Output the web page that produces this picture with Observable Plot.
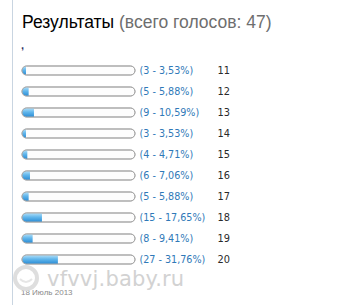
<!DOCTYPE html>
<html>
<head>
<meta charset="utf-8">
<script src="https://cdn.jsdelivr.net/npm/d3@7"></script>
<script src="https://cdn.jsdelivr.net/npm/@observablehq/plot@0.6"></script>
<style>
  html, body { margin: 0; padding: 0; background: #fff; }
  #wrap { position: relative; width: 358px; height: 305px; overflow: hidden; }
  #wrap svg.plot-main { position: absolute; left: 0; top: 0; }
  .ov { position: absolute; white-space: nowrap; }
  #vline { position: absolute; left: 12px; top: 0; width: 1px; height: 305px; background: #c9d5e1; }
  #title { left: 22px; top: 12px; font: 17.5px "Liberation Sans", Arial, sans-serif; color: #000; }
  #title span { color: #6e6e6e; }
  #comma { left: 21px; top: 39px; font: bold 11px "Liberation Sans", sans-serif; color: #336; }
  #wm { left: 47px; top: 267px; font: 21px "DejaVu Sans", sans-serif; color: #d2d2d2; letter-spacing: 0.2px; }
  #date { left: 21px; top: 288px; font: 8px "Liberation Sans", sans-serif; color: #8a8a8a; }
</style>
</head>
<body>
<div id="wrap">
  <div id="vline"></div>
</div>
<script>
const options = ["11", "12", "13", "14", "15", "16", "17", "18", "19", "20"];
const votes = [3, 5, 9, 3, 4, 6, 5, 15, 8, 27];
const percents = [3.53, 5.88, 10.59, 3.53, 4.71, 7.06, 5.88, 17.65, 9.41, 31.76];

const rows = options.map((o, i) => ({
  option: o,
  votes: votes[i],
  pct: percents[i],
  label: `(${votes[i]} - ${percents[i].toFixed(2).replace(".", ",")}%)`
}));

const chart = Plot.plot({
  width: 358,
  height: 305,
  marginLeft: 0, marginRight: 0, marginTop: 0, marginBottom: 0,
  style: { background: "transparent", overflow: "visible" },
  x: { domain: [0, 100], range: [22, 135], axis: null },
  y: { domain: options, range: [57.2, 273.9], paddingInner: 0.56, paddingOuter: 0.32, axis: null },
  marks: [
    Plot.barX(rows, { y: "option", x1: 0, x2: 100, fill: "#fdfdfd", stroke: "#a9a9a9", strokeWidth: 1, rx: 4.5, className: "track" }),
    Plot.barX(rows, { y: "option", x1: 0, x2: "pct", fill: "url(#barGrad)", className: "fillbar" }),
    Plot.barX(rows, { y: "option", x1: 0, x2: 100, fill: "none", stroke: "#a9a9a9", strokeWidth: 1, rx: 4.5 }),
    Plot.text(rows, { y: "option", text: "label", frameAnchor: "left", dx: 139, fill: "#2f79b8", fontSize: 9.6, fontFamily: "DejaVu Sans", textAnchor: "start" }),
    Plot.text(rows, { y: "option", text: "option", frameAnchor: "left", dx: 217, fill: "#2a2a2a", fontSize: 9.8, fontFamily: "DejaVu Sans", textAnchor: "start" })
  ]
});
chart.classList.add("plot-main");

const svg = d3.select(chart);
const defs = svg.insert("defs", ":first-child");
const g = defs.append("linearGradient").attr("id", "barGrad").attr("x1", 0).attr("y1", 0).attr("x2", 0).attr("y2", 1);
g.append("stop").attr("offset", "0%").attr("stop-color", "#b4e0f8");
g.append("stop").attr("offset", "45%").attr("stop-color", "#62b7ec");
g.append("stop").attr("offset", "100%").attr("stop-color", "#2a8bd4");

// clip the value fills to the rounded track shapes
const clip = defs.append("clipPath").attr("id", "trackClip");
svg.selectAll("g.track rect").each(function () {
  clip.node().appendChild(this.cloneNode(true));
});
svg.select("g.fillbar").attr("clip-path", "url(#trackClip)");

const wrap = document.getElementById("wrap");
wrap.appendChild(chart);

const addDiv = (id, html) => {
  const d = document.createElement("div");
  d.id = id; d.className = "ov"; d.innerHTML = html;
  wrap.appendChild(d);
};
addDiv("title", 'Результаты <span>(всего голосов: 47)</span>');
addDiv("comma", ",");
addDiv("wm", "vfvvj.baby.ru");
addDiv("date", "18 Июль 2013");

const logo = document.createElementNS("http://www.w3.org/2000/svg", "svg");
logo.setAttribute("width", "32");
logo.setAttribute("height", "30");
logo.setAttribute("style", "position:absolute;left:11px;top:263px");
logo.innerHTML = '<circle cx="15" cy="15" r="11" fill="none" stroke="#dedede" stroke-width="4"/><path d="M9 16 Q15 22 21 16" fill="none" stroke="#e6e6e6" stroke-width="2"/>';
wrap.appendChild(logo);
</script>
</body>
</html>
